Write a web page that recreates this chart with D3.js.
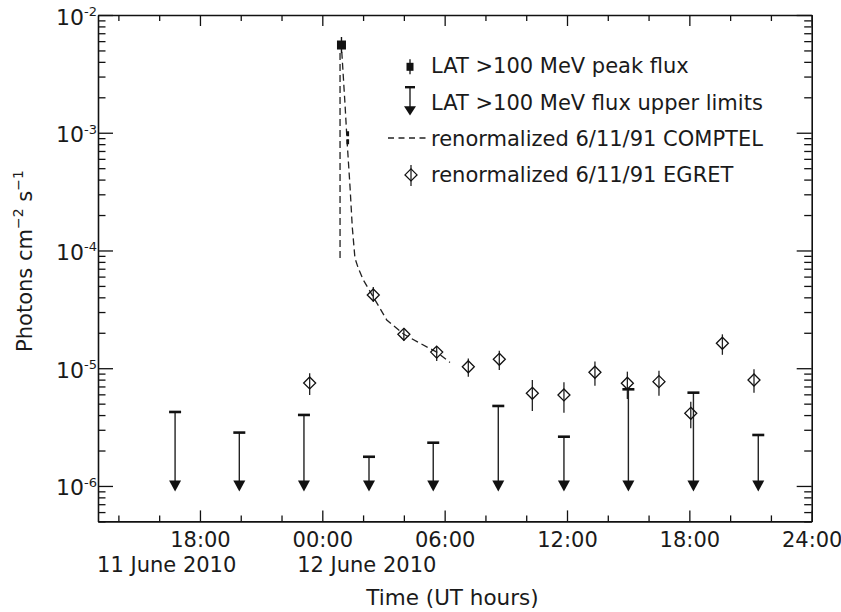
<!DOCTYPE html>
<html><head><meta charset="utf-8">
<script src="https://cdn.jsdelivr.net/npm/d3@7"></script>
<style>
body{margin:0;background:#fff}
svg{display:block}
text{font-family:"DejaVu Sans",sans-serif;fill:#1a1a1a}
</style>
</head><body>
<svg id="chart" width="841" height="612"></svg>
<script>
// ---------- data (hours relative to 00:00 UT 12 June 2010; flux in photons cm^-2 s^-1) ----------
const xMajorHours = [-6, 0, 6, 12, 18, 24];
const xTickLabels = ["18:00", "00:00", "06:00", "12:00", "18:00", "24:00"];
const xMinorHours = [-10, -8, -4, -2, 2, 4, 8, 10, 14, 16, 20, 22];
const dateLabels = ["11 June 2010", "12 June 2010"];
const dateLabelHours = [-7.63, 2.18];
const yMajorExps = [-2, -3, -4, -5, -6];

const peakT = [0.94];
const peakF = [5.56e-3];
const peakLo = [4.75e-3];
const peakHi = [6.50e-3];

const peak2T = [1.25];
const peak2Lo = [7.6e-4];
const peak2Hi = [1.03e-3];

const upperT = [-7.22, -4.07, -0.90, 2.29, 5.44, 8.63, 11.85, 15.01, 18.20, 21.38];
const upperF = [4.25e-6, 2.84e-6, 4.01e-6, 1.77e-6, 2.33e-6, 4.78e-6, 2.62e-6, 6.62e-6, 6.2e-6, 2.71e-6];
const upperArrowF = 1e-6;

const egretT  = [-0.62, 2.50, 4.00, 5.61, 7.16, 8.68, 10.30, 11.85, 13.37, 14.96, 16.51, 18.07, 19.62, 21.17];
const egretF  = [7.5e-6, 4.19e-5, 1.94e-5, 1.37e-5, 1.03e-5, 1.19e-5, 6.12e-6, 5.93e-6, 9.24e-6, 7.45e-6, 7.69e-6, 4.14e-6, 1.63e-5, 7.94e-6];
const egretLo = [5.93e-6, 3.66e-5, 1.71e-5, 1.15e-5, 8.48e-6, 9.66e-6, 4.34e-6, 4.19e-6, 7.11e-6, 5.48e-6, 5.85e-6, 3.09e-6, 1.30e-5, 6.20e-6];
const egretHi = [9.06e-6, 4.90e-5, 2.18e-5, 1.52e-5, 1.21e-5, 1.41e-5, 7.94e-6, 7.60e-6, 1.14e-5, 9.35e-6, 9.53e-6, 5.20e-6, 1.94e-5, 9.80e-6];

const comptelT = [0.87, 0.87, 0.95, 1.11, 1.22, 1.36, 1.47, 1.60, 1.76, 2.01, 2.50, 3.16, 4.00, 4.79, 5.61, 6.26];
const comptelF = [8.63e-5, 5.56e-3, 5.05e-3, 1.79e-3, 8.18e-4, 3.46e-4, 1.58e-4, 8.63e-5, 7.10e-5, 5.62e-5, 4.03e-5, 2.57e-5, 1.94e-5, 1.63e-5, 1.37e-5, 1.12e-5];

const legendLabels = ["LAT >100 MeV peak flux", "LAT >100 MeV flux upper limits",
                      "renormalized 6/11/91 COMPTEL", "renormalized 6/11/91 EGRET"];

// ---------- layout ----------
const L = 98, R = 811.7, T = 15, B = 521.4;
const svg = d3.select("#chart");
const x = d3.scaleLinear().domain([-11, 24]).range([L, R]);
const y = d3.scaleLog().domain([5e-7, 1e-2]).range([B, T]);
const ink = "#111";

const yMinor = [];
for (let e = -7; e <= -3; e++) for (let m = 2; m <= 9; m++) {
  const v = m * Math.pow(10, e);
  if (v >= 5e-7 && v <= 1e-2) yMinor.push(v);
}
const yMajor = yMajorExps.map(e => Math.pow(10, e));

function styleAxis(g, w) {
  g.selectAll("path.domain").attr("stroke", ink).attr("stroke-width", 1.6);
  g.selectAll(".tick line").attr("stroke", ink).attr("stroke-width", w || 1.3);
}

// bottom
const gb = svg.append("g").attr("transform", `translate(0,${B})`)
  .call(d3.axisBottom(x).tickValues(xMajorHours).tickSizeInner(-11).tickSizeOuter(0).tickPadding(10.5)
        .tickFormat((d, i) => xTickLabels[i]));
styleAxis(gb);
gb.selectAll(".tick text").attr("font-size", 21).attr("fill", "#1a1a1a").attr("font-family", "DejaVu Sans");
svg.append("g").attr("transform", `translate(0,${B})`)
  .call(d3.axisBottom(x).tickValues(xMinorHours).tickSizeInner(-6).tickSizeOuter(0).tickFormat(""))
  .call(g => { g.select("path.domain").remove(); styleAxis(g); });
// top
svg.append("g").attr("transform", `translate(0,${T})`)
  .call(d3.axisTop(x).tickValues(xMajorHours).tickSizeInner(-11).tickSizeOuter(0).tickFormat(""))
  .call(g => styleAxis(g));
svg.append("g").attr("transform", `translate(0,${T})`)
  .call(d3.axisTop(x).tickValues(xMinorHours).tickSizeInner(-6).tickSizeOuter(0).tickFormat(""))
  .call(g => { g.select("path.domain").remove(); styleAxis(g); });
// left
const gl = svg.append("g").attr("transform", `translate(${L},0)`)
  .call(d3.axisLeft(y).tickValues(yMajor).tickSizeInner(-15).tickSizeOuter(0).tickPadding(1).tickFormat(""));
styleAxis(gl);
gl.selectAll(".tick").each(function(d, i) {
  const t = d3.select(this).append("text").attr("x", -1).attr("dy", 9)
    .attr("text-anchor", "end").attr("font-size", 22).attr("fill", "#1a1a1a");
  t.append("tspan").text("10");
  t.append("tspan").attr("font-size", 13).attr("dy", -8.5).text(String(Math.round(Math.log10(d))));
});
svg.append("g").attr("transform", `translate(${L},0)`)
  .call(d3.axisLeft(y).tickValues(yMinor).tickSizeInner(-7.5).tickSizeOuter(0).tickFormat(""))
  .call(g => { g.select("path.domain").remove(); styleAxis(g); });
// right
svg.append("g").attr("transform", `translate(${R},0)`)
  .call(d3.axisRight(y).tickValues(yMajor).tickSizeInner(-15).tickSizeOuter(0).tickFormat(""))
  .call(g => styleAxis(g));
svg.append("g").attr("transform", `translate(${R},0)`)
  .call(d3.axisRight(y).tickValues(yMinor).tickSizeInner(-7.5).tickSizeOuter(0).tickFormat(""))
  .call(g => { g.select("path.domain").remove(); styleAxis(g); });

// date labels
svg.append("g").selectAll("text").data(dateLabels).join("text")
  .attr("x", (d, i) => x(dateLabelHours[i])).attr("y", 571.5)
  .attr("text-anchor", "middle").attr("font-size", 21).text(d => d);

// axis titles
svg.append("text").attr("x", 452.5).attr("y", 605).attr("text-anchor", "middle")
  .attr("font-size", 21.5).text("Time (UT hours)");
const yt = svg.append("text").attr("transform", "translate(32,261) rotate(-90)")
  .attr("text-anchor", "middle").attr("font-size", 21);
yt.append("tspan").text("Photons cm");
yt.append("tspan").attr("font-size", 14).attr("dy", -9).text("\u22122");
yt.append("tspan").attr("dy", 9).text(" s");
yt.append("tspan").attr("font-size", 14).attr("dy", -9).text("\u22121");

// ---------- marks ----------
// COMPTEL dashed curve
const line = d3.line().x(d => x(d[0])).y(d => y(d[1]));
svg.append("path").datum(comptelT.map((t, i) => [t, comptelF[i]]))
  .attr("d", line).attr("fill", "none").attr("stroke", "#222").attr("stroke-width", 1.3)
  .attr("stroke-dasharray", "7,4");

// LAT upper limits
const ul = svg.append("g").selectAll("g").data(upperT.map((t, i) => [t, upperF[i]])).join("g");
ul.append("line").attr("x1", d => x(d[0])).attr("x2", d => x(d[0]))
  .attr("y1", d => y(d[1])).attr("y2", y(upperArrowF) - 4)
  .attr("stroke", "#222").attr("stroke-width", 1.4);
ul.append("line").attr("x1", d => x(d[0]) - 6).attr("x2", d => x(d[0]) + 6)
  .attr("y1", d => y(d[1])).attr("y2", d => y(d[1]))
  .attr("stroke", "#111").attr("stroke-width", 2.6);
ul.append("path").attr("d", d => {
  const cx = x(d[0]), cy = y(upperArrowF);
  return `M${cx - 6},${cy - 5.5}L${cx + 6},${cy - 5.5}L${cx},${cy + 5.5}Z`;
}).attr("fill", "#111");

// EGRET diamonds
const eg = svg.append("g").selectAll("g").data(egretT.map((t, i) => i)).join("g");
eg.append("line").attr("x1", i => x(egretT[i])).attr("x2", i => x(egretT[i]))
  .attr("y1", i => y(egretHi[i])).attr("y2", i => y(egretLo[i]))
  .attr("stroke", "#222").attr("stroke-width", 1.3);
eg.append("path").attr("d", i => {
  const cx = x(egretT[i]), cy = y(egretF[i]), s = 6;
  return `M${cx},${cy - s}L${cx + s},${cy}L${cx},${cy + s}L${cx - s},${cy}Z`;
}).attr("fill", "none").attr("stroke", "#111").attr("stroke-width", 1.3);

// LAT peak flux
const pk = svg.append("g").selectAll("g").data(peakT.map((t, i) => i)).join("g");
pk.append("line").attr("x1", i => x(peakT[i])).attr("x2", i => x(peakT[i]))
  .attr("y1", i => y(peakHi[i])).attr("y2", i => y(peakLo[i])).attr("stroke", "#111").attr("stroke-width", 1.4);
pk.append("rect").attr("x", i => x(peakT[i]) - 4.5).attr("y", i => y(peakF[i]) - 4.5)
  .attr("width", 9).attr("height", 9).attr("fill", "#111");
svg.append("g").selectAll("line").data(peak2T.map((t, i) => i)).join("line")
  .attr("x1", i => x(peak2T[i])).attr("x2", i => x(peak2T[i]))
  .attr("y1", i => y(peak2Hi[i])).attr("y2", i => y(peak2Lo[i]))
  .attr("stroke", "#111").attr("stroke-width", 2.6).attr("stroke-dasharray", "5,3");

// ---------- legend ----------
const lgX = 410, lgTextX = 431, lgBase = 73.3, lgStep = 36.2;
const lg = svg.append("g");
lg.selectAll("text").data(legendLabels).join("text")
  .attr("x", lgTextX).attr("y", (d, i) => lgBase + i * lgStep).attr("font-size", 21).text(d => d);
// peak flux symbol
lg.append("line").attr("x1", lgX).attr("x2", lgX).attr("y1", lgBase - 14).attr("y2", lgBase + 1)
  .attr("stroke", "#111").attr("stroke-width", 1.3);
lg.append("rect").attr("x", lgX - 3.5).attr("y", lgBase - 10.5).attr("width", 7).attr("height", 8).attr("fill", "#111");
// upper limit symbol
const r2 = lgBase + lgStep;
lg.append("line").attr("x1", lgX).attr("x2", lgX).attr("y1", r2 - 22.3).attr("y2", r2 - 2)
  .attr("stroke", "#222").attr("stroke-width", 1.4);
lg.append("line").attr("x1", lgX - 5).attr("x2", lgX + 5).attr("y1", r2 - 22.3).attr("y2", r2 - 22.3)
  .attr("stroke", "#111").attr("stroke-width", 2.4);
lg.append("path").attr("d", `M${lgX - 6},${r2 - 3.3}L${lgX + 6},${r2 - 3.3}L${lgX},${r2 + 6}Z`).attr("fill", "#111");
// COMPTEL symbol
const r3 = lgBase + 2 * lgStep;
lg.append("line").attr("x1", 388).attr("x2", 428).attr("y1", r3 - 7.7).attr("y2", r3 - 7.7)
  .attr("stroke", "#222").attr("stroke-width", 1.3).attr("stroke-dasharray", "6,4.5");
// EGRET symbol
const r4 = lgBase + 3 * lgStep;
lg.append("line").attr("x1", lgX + 1).attr("x2", lgX + 1).attr("y1", r4 - 17).attr("y2", r4 + 4)
  .attr("stroke", "#222").attr("stroke-width", 1.3);
lg.append("path").attr("d", `M${lgX + 1},${r4 - 13}L${lgX + 7},${r4 - 7}L${lgX + 1},${r4 - 1}L${lgX - 5},${r4 - 7}Z`)
  .attr("fill", "none").attr("stroke", "#111").attr("stroke-width", 1.3);
</script>
</body></html>
